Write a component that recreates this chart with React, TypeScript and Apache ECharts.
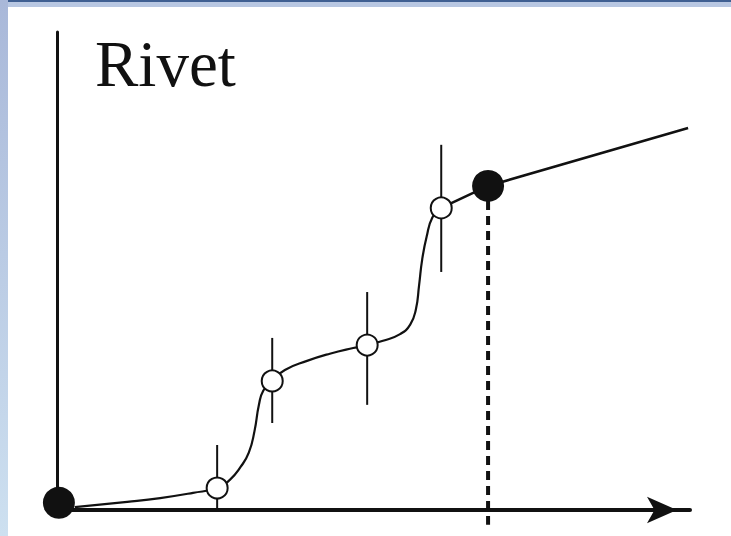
import React, { useEffect, useRef } from "react";
import * as echarts from "echarts";

// Traced fitted curve (smooth part)
const curveX = [0.28, 1.11, 1.63, 2.15, 2.53, 2.73, 2.90, 3.03, 3.12, 3.19, 3.26, 3.40, 3.60, 3.95, 4.31, 4.68, 4.90, 5.15, 5.42, 5.58, 5.67, 5.72, 5.77, 5.84, 5.93, 6.07];
const curveY = [0.06, 0.17, 0.25, 0.36, 0.46, 0.63, 0.90, 1.20, 1.65, 2.20, 2.50, 2.70, 2.93, 3.12, 3.27, 3.39, 3.45, 3.54, 3.68, 3.88, 4.20, 4.70, 5.25, 5.72, 6.12, 6.32];

// Observed points (open circles) with error bars
const obsX = [2.53, 3.40, 4.90, 6.07];
const obsY = [0.46, 2.70, 3.45, 6.32];
const errLow = [0.0, 1.82, 2.20, 4.98];
const errHigh = [1.36, 3.60, 4.56, 7.64];

// Known points (filled dots)
const knownX = [0.03, 6.81];
const knownY = [0.15, 6.78];

// Straight extrapolation line
const lineX = [6.07, 6.81, 9.97];
const lineY = [6.32, 6.78, 7.99];

// Dashed drop line
const dropX = 6.81;
const dropY = [6.78, -0.31];

const titleText = "Rivet";

export default function App() {
  const ref = useRef<HTMLDivElement>(null);
  useEffect(() => {
    if (!ref.current) return;
    const chart = echarts.init(ref.current, null, { renderer: "svg" });
    const ink = "#111";
    chart.setOption({
      animation: false,
      backgroundColor: "#ffffff",
      grid: { left: 57, right: 41, top: 32, bottom: 26 },
      xAxis: {
        type: "value",
        min: 0,
        max: 10,
        axisLine: {
          show: true,
          symbol: ["none", "arrow"],
          symbolSize: [20, 30],
          symbolOffset: [0, -13],
          lineStyle: { color: ink, width: 4 },
        },
        axisTick: { show: false },
        axisLabel: { show: false },
        splitLine: { show: false },
      },
      yAxis: {
        type: "value",
        min: 0,
        max: 10,
        axisLine: { show: true, lineStyle: { color: ink, width: 3 } },
        axisTick: { show: false },
        axisLabel: { show: false },
        splitLine: { show: false },
      },
      graphic: [
        { type: "rect", left: 0, top: 0, z: 100, shape: { width: 731, height: 2 }, style: { fill: "#3f5f92" } },
        { type: "rect", left: 0, top: 2, z: 100, shape: { width: 731, height: 5 }, style: { fill: "#b8c7e2" } },
        {
          type: "rect",
          left: 0,
          top: 0,
          z: 100,
          shape: { width: 8, height: 536 },
          style: {
            fill: new echarts.graphic.LinearGradient(0, 0, 0, 1, [
              { offset: 0, color: "#a9b8d9" },
              { offset: 1, color: "#cde0f0" },
            ]),
          },
        },
        {
          type: "text",
          x: 95,
          y: 64,
          z: 100,
          style: {
            text: titleText,
            font: "65px 'Liberation Serif', serif",
            fill: ink,
            verticalAlign: "middle",
          },
        },
      ],
      series: [
        {
          type: "line",
          data: curveX.map((x, i) => [x, curveY[i]]),
          smooth: 0.5,
          symbol: "none",
          lineStyle: { color: ink, width: 2.2 },
          z: 2,
        },
        {
          type: "line",
          data: lineX.map((x, i) => [x, lineY[i]]),
          symbol: "none",
          lineStyle: { color: ink, width: 2.6 },
          z: 2,
        },
        {
          type: "line",
          data: dropY.map((y) => [dropX, y]),
          symbol: "none",
          clip: false,
          lineStyle: { color: ink, width: 4, type: [9, 6] },
          z: 2,
        },
        {
          type: "custom",
          data: obsX.map((x, i) => [x, errLow[i], errHigh[i]]),
          encode: { x: 0, y: [1, 2] },
          clip: false,
          renderItem: (_params: any, api: any) => {
            const p1 = api.coord([api.value(0), api.value(1)]);
            const p2 = api.coord([api.value(0), api.value(2)]);
            return {
              type: "line",
              shape: { x1: p1[0], y1: p1[1], x2: p2[0], y2: p2[1] },
              style: { stroke: ink, lineWidth: 2 },
            };
          },
          z: 3,
        },
        {
          type: "scatter",
          data: obsX.map((x, i) => [x, obsY[i]]),
          symbol: "circle",
          symbolSize: 21,
          itemStyle: { color: "#ffffff", borderColor: ink, borderWidth: 2, opacity: 1 },
          z: 4,
        },
        {
          type: "scatter",
          data: knownX.map((x, i) => [x, knownY[i]]),
          symbol: "circle",
          symbolSize: 32,
          clip: false,
          itemStyle: { color: ink, opacity: 1 },
          z: 5,
        },
      ],
    });
    return () => chart.dispose();
  }, []);
  return (
    <div
      ref={ref}
      style={{ position: "fixed", left: 0, top: 0, width: 731, height: 536 }}
    />
  );
}
